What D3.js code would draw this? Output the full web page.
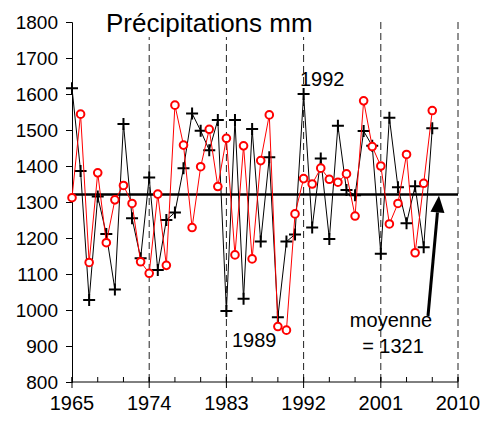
<!DOCTYPE html>
<html>
<head>
<meta charset="utf-8">
<script src="https://cdn.jsdelivr.net/npm/d3@7"></script>
<style>
  body { margin: 0; background: #fff; }
  svg { display: block; font-family: "Liberation Sans", Arial, sans-serif; }
</style>
</head>
<body>
<svg id="chart" width="483" height="423"></svg>
<script>
// annual precipitation (mm), 1965-2007
var years = d3.range(1965, 2008);
var serieNoire = [1616,1386,1028,1315,1211,1057,1517,1255,1144,1368,1111,1250,1271,1394,1546,1498,
  1444,1528,997,1528,1031,1503,1190,1424,980,1190,1210,1600,1229,
  1421,1197,1512,1333,1319,1497,1456,1156,1534,1341,1241,1344,1174,1505];
var serieRouge = [1312,1544,1132,1381,1187,1306,1346,1296,1134,1102,1322,1124,1569,1458,1229,1398,
  1502,1343,1477,1153,1456,1142,1415,1542,954,944,1267,1365,1350,
  1394,1363,1355,1378,1261,1581,1454,1400,1239,1296,1432,1159,1352,1554];
var moyenne = 1321;
var xTicks = [1965, 1974, 1983, 1992, 2001, 2010];
var xMinor = d3.range(1965, 2011, 3);
var yTicks = d3.range(800, 1801, 100);

var svg = d3.select("#chart");

var x = d3.scaleLinear().domain([1965, 2010]).range([72, 458]);
var y = d3.scaleLinear().domain([800, 1800]).range([382, 22]);

// dashed verticals
svg.append("g").selectAll("line")
  .data(xTicks.slice(1))
  .join("line")
    .attr("x1", d => x(d)).attr("x2", d => x(d))
    .attr("y1", y(1800)).attr("y2", y(800))
    .attr("stroke", "#222")
    .attr("stroke-width", 1)
    .attr("stroke-dasharray", "7,4");

// title (white box hides the dashes)
svg.append("rect")
  .attr("x", 100).attr("y", 0).attr("width", 222).attr("height", 37)
  .attr("fill", "#fff");
svg.append("text")
  .attr("x", 106).attr("y", 32)
  .style("font-size", "26px")
  .text("Précipitations mm");

// y axis
var yAxis = svg.append("g")
  .attr("transform", "translate(" + x(1965) + ",0)")
  .call(d3.axisLeft(y).tickValues(yTicks).tickSize(6).tickPadding(8).tickFormat(d3.format("d")));
yAxis.select(".domain").attr("stroke", "#000");
yAxis.selectAll("text").style("font-size", "19px").attr("fill", "#000")
  .style("font-family", "'Liberation Sans', Arial, sans-serif");

// x axis
var xg = svg.append("g").attr("transform", "translate(0," + y(800) + ")");
xg.append("line").attr("x1", x(1965)).attr("x2", x(2010)).attr("stroke", "#000");
xg.selectAll(".minor").data(xMinor).join("line")
  .attr("class", "minor")
  .attr("x1", d => x(d)).attr("x2", d => x(d))
  .attr("y1", -5).attr("y2", 0).attr("stroke", "#000");
xg.selectAll(".major").data(xTicks).join("line")
  .attr("class", "major")
  .attr("x1", d => x(d)).attr("x2", d => x(d))
  .attr("y1", -5).attr("y2", 6).attr("stroke", "#000");
xg.selectAll("text").data(xTicks).join("text")
  .attr("x", d => x(d)).attr("y", 28)
  .attr("text-anchor", "middle")
  .style("font-size", "20px")
  .text(d => d);

// mean line
svg.append("line")
  .attr("x1", x(1965)).attr("x2", x(2010))
  .attr("y1", y(moyenne)).attr("y2", y(moyenne))
  .attr("stroke", "#000").attr("stroke-width", 2.6);

var line = d3.line().x((d, i) => x(years[i])).y(d => y(d));

// black series with + markers
svg.append("path").datum(serieNoire)
  .attr("d", line).attr("fill", "none").attr("stroke", "#000").attr("stroke-width", 1);
svg.append("g").selectAll("path")
  .data(serieNoire)
  .join("path")
    .attr("d", (d, i) => {
      var cx = x(years[i]), cy = y(d);
      return "M" + (cx - 6) + "," + cy + "H" + (cx + 6) + "M" + cx + "," + (cy - 6) + "V" + (cy + 6);
    })
    .attr("stroke", "#000").attr("stroke-width", 2);

// red series with o markers
svg.append("path").datum(serieRouge)
  .attr("d", line).attr("fill", "none").attr("stroke", "#ff0000").attr("stroke-width", 1);
svg.append("g").selectAll("circle")
  .data(serieRouge)
  .join("circle")
    .attr("cx", (d, i) => x(years[i]))
    .attr("cy", d => y(d))
    .attr("r", 3.8)
    .attr("fill", "#fff")
    .attr("stroke", "#ff0000")
    .attr("stroke-width", 2);

// annotations
svg.append("text").attr("x", 300).attr("y", 86).style("font-size", "20px").text("1992");
svg.append("text").attr("x", 232).attr("y", 347).style("font-size", "20px").text("1989");
svg.append("text").attr("x", 391).attr("y", 327).attr("text-anchor", "middle")
  .style("font-size", "20px").text("moyenne");
svg.append("text").attr("x", 393).attr("y", 353).attr("text-anchor", "middle")
  .style("font-size", "20px").text("= 1321");

// arrow to the mean line
var tipX = 439, tipY = y(moyenne) + 1;
var baseX = 428, baseY = 316;
var ang = Math.atan2(tipY - baseY, tipX - baseX);
var hl = 17, hw = 7;
var bx = tipX - hl * Math.cos(ang), by = tipY - hl * Math.sin(ang);
svg.append("line")
  .attr("x1", baseX).attr("y1", baseY).attr("x2", bx).attr("y2", by)
  .attr("stroke", "#000").attr("stroke-width", 3);
svg.append("path")
  .attr("d", "M" + tipX + "," + tipY +
    "L" + (bx + hw * Math.sin(ang)) + "," + (by - hw * Math.cos(ang)) +
    "L" + (bx - hw * Math.sin(ang)) + "," + (by + hw * Math.cos(ang)) + "Z")
  .attr("fill", "#000");
</script>
</body>
</html>
